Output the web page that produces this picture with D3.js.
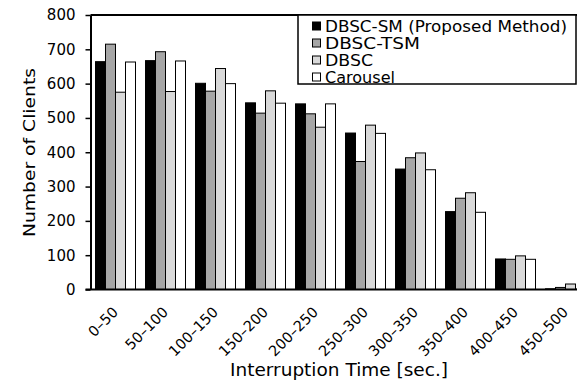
<!DOCTYPE html>
<html>
<head>
<meta charset="utf-8">
<script src="https://cdn.jsdelivr.net/npm/d3@7"></script>
<style>
  html, body { margin: 0; padding: 0; background: #fff; overflow: hidden; }
  svg { display: block; }
</style>
</head>
<body>
<svg id="chart" width="577" height="381"></svg>
<script>
// Interruption-time bins
const categories = ["0\u201350", "50\u2013100", "100\u2013150", "150\u2013200", "200\u2013250",
                    "250\u2013300", "300\u2013350", "350\u2013400", "400\u2013450", "450\u2013500"];

// Number of clients per method
const dbscSm   = [664, 667, 601, 544, 541, 456, 351, 227, 89, 2];
const dbscTsm  = [715, 693, 578, 514, 512, 373, 384, 266, 88, 6];
const dbsc     = [575, 577, 644, 579, 473, 479, 398, 282, 98, 16];
const carousel = [663, 666, 600, 543, 541, 455, 349, 225, 88, 1];

const seriesNames = ["DBSC-SM (Proposed Method)", "DBSC-TSM", "DBSC", "Carousel"];
const seriesFills = ["#000000", "#a6a6a6", "#d9d9d9", "#ffffff"];
const yTicks = [0, 100, 200, 300, 400, 500, 600, 700, 800];

const seriesValues = [dbscSm, dbscTsm, dbsc, carousel];

const FONT = "DejaVu Sans, Verdana, sans-serif";
const svg = d3.select("#chart");
const plotLeft = 90.5, plotTop = 15, plotBottom = 289.5, plotWidth = 500;

const x = d3.scaleBand().domain(categories).range([plotLeft, plotLeft + plotWidth]).paddingInner(0.2).paddingOuter(0.1);
const xs = d3.scaleBand().domain(d3.range(seriesNames.length)).range([0, x.bandwidth()]);
const y = d3.scaleLinear().domain([0, 800]).range([plotBottom, plotTop]);

// bars
const groups = svg.append("g").selectAll("g").data(categories).join("g")
  .attr("transform", d => `translate(${x(d)},0)`);
groups.selectAll("rect")
  .data((c, i) => seriesValues.map((vals, s) => ({ s, v: vals[i] })))
  .join("rect")
  .attr("x", d => xs(d.s))
  .attr("width", xs.bandwidth())
  .attr("y", d => y(d.v))
  .attr("height", d => plotBottom - y(d.v))
  .attr("fill", d => seriesFills[d.s])
  .attr("stroke", "#000")
  .attr("stroke-width", 1);

// y axis
const yAxis = svg.append("g").attr("transform", `translate(${plotLeft},0)`)
  .call(d3.axisLeft(y).tickValues(yTicks).tickSize(5).tickPadding(10).tickSizeOuter(0));
yAxis.select(".domain").attr("stroke-width", 2);
yAxis.selectAll(".tick line").attr("stroke-width", 1.5);
yAxis.selectAll("text").attr("font-family", FONT)
  .attr("font-size", 15).attr("fill", "#000");

// top frame line and baseline
svg.append("line").attr("x1", plotLeft).attr("x2", 577).attr("y1", plotTop).attr("y2", plotTop)
  .attr("stroke", "#000").attr("stroke-width", 2);
svg.append("line").attr("x1", plotLeft - 5).attr("x2", 577).attr("y1", plotBottom).attr("y2", plotBottom)
  .attr("stroke", "#000").attr("stroke-width", 2);

// x labels, rotated
const xAxis = svg.append("g").attr("transform", `translate(0,${plotBottom})`)
  .call(d3.axisBottom(x).tickSize(0).tickPadding(0));
xAxis.select(".domain").remove();
xAxis.selectAll("text")
  .attr("font-family", FONT)
  .attr("font-size", 14.5).attr("fill", "#000")
  .attr("text-anchor", "end")
  .attr("dy", null).attr("y", 0)
  .attr("transform", "translate(3.5,23.5) rotate(-45)");

// axis titles
svg.append("text").attr("x", 339).attr("y", 376).attr("text-anchor", "middle")
  .attr("font-family", FONT).attr("font-size", 17)
  .attr("textLength", 218).attr("lengthAdjust", "spacingAndGlyphs")
  .text("Interruption Time [sec.]");
svg.append("text").attr("transform", "translate(35,152.5) rotate(-90)").attr("text-anchor", "middle")
  .attr("font-family", FONT).attr("font-size", 16.5)
  .attr("textLength", 169).attr("lengthAdjust", "spacingAndGlyphs")
  .text("Number of Clients");

// legend (labels set in a wide face, so each is stretched to its run width)
const legendRun = [242, 95, 48, 70];
const legend = svg.append("g");
legend.append("rect").attr("x", 298).attr("y", 15).attr("width", 278).attr("height", 69)
  .attr("fill", "#fff").attr("stroke", "#000").attr("stroke-width", 1.5);
const items = legend.selectAll("g.item").data(seriesNames).join("g").attr("class", "item")
  .attr("transform", (d, i) => `translate(312,${26 + i * 17})`);
items.append("rect").attr("x", 0.5).attr("y", -4).attr("width", 8).attr("height", 8)
  .attr("fill", (d, i) => seriesFills[i]).attr("stroke", "#000").attr("stroke-width", 1);
items.append("text").attr("x", 13).attr("y", 0).attr("dy", "0.36em")
  .attr("font-family", FONT).attr("font-size", 15.5)
  .attr("textLength", (d, i) => legendRun[i]).attr("lengthAdjust", "spacingAndGlyphs")
  .text(d => d);
</script>
</body>
</html>
